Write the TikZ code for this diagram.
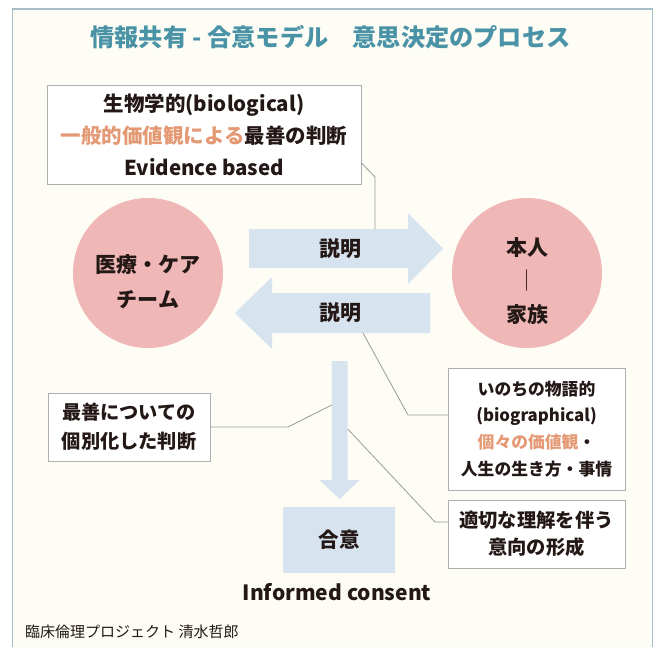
\documentclass[tikz,border=0pt]{standalone}
\usepackage{fontspec}
\setmainfont{Noto Sans CJK JP}
\definecolor{cream}{HTML}{FDFDF5}
\definecolor{framec}{HTML}{A6BEC8}
\definecolor{titlec}{HTML}{4A93A6}
\definecolor{pinkc}{HTML}{F0B7B7}
\definecolor{arrowc}{HTML}{D7E3EF}
\definecolor{orangec}{HTML}{E39A74}
\definecolor{inkc}{HTML}{231815}
\definecolor{boxline}{HTML}{AFAFAF}
\definecolor{connc}{HTML}{9A9A9A}
\tikzset{
  txt/.style={text=inkc, font=\bfseries, align=center, inner sep=0pt},
  wbox/.style={draw=boxline, line width=1pt, fill=white, inner sep=0pt, align=center, text=inkc, font=\bfseries},
  conn/.style={draw=connc, line width=0.8pt},
  disk/.style={circle, fill=pinkc, minimum size=150pt, inner sep=0pt}
}
\begin{document}
\begin{tikzpicture}[x=1pt,y=-1pt]
\useasboundingbox (0,0) rectangle (654,646);
\fill[white] (0,0) rectangle (654,646);
\filldraw[draw=framec, fill=cream, line width=1.2pt] (12.5,660) -- (12.5,9) -- (652.5,9) -- (652.5,660);

\node[txt, text=titlec, font=\bfseries\fontsize{24.2}{26}\selectfont] (title) at (330.5,37) {情報共有 - 合意モデル　意思決定のプロセス};

% circles
\node[disk] (team) at (148,273) {};
\node[disk] (self) at (527,273) {};
\node[txt, font=\bfseries\fontsize{21}{35}\selectfont] (teamtxt) at (148,282) {医療・ケア\\チーム};
\node[txt, font=\bfseries\fontsize{21}{33.5}\selectfont] (selftxt) at (527,281) {本人\\{\mdseries ｜}\\家族};

% arrows
\fill[arrowc] (249,229) -- (408,229) -- (408,213) -- (443,248.5) -- (408,284) -- (408,268) -- (249,268) -- cycle;
\fill[arrowc] (430,293) -- (272,293) -- (272,277) -- (235,313) -- (272,349) -- (272,333) -- (430,333) -- cycle;
\fill[arrowc] (331.7,361) -- (347.7,361) -- (347.7,480) -- (359.5,480) -- (339.7,499) -- (319.5,480) -- (331.7,480) -- cycle;
\coordinate (rtop) at (375,229);
\coordinate (lbot) at (363,333);
\coordinate (dleft) at (331.7,405);
\coordinate (dright) at (347.7,429);

\node[txt, font=\bfseries\fontsize{21}{24}\selectfont] (exp1) at (340,249) {説明};
\node[txt, font=\bfseries\fontsize{21}{24}\selectfont] (exp2) at (340,313) {説明};

% top box
\node[wbox, minimum width=314pt, minimum height=99pt, font=\bfseries\fontsize{20.5}{32}\selectfont] (bio) at (204,134.5)
 {生物学的(biological)\\{\color{orangec}一般的価値観による}最善の判断\\Evidence based};

% right boxes
\node[wbox, minimum width=177pt, minimum height=122pt, font=\bfseries\fontsize{16.8}{26.7}\selectfont] (story) at (536.5,429)
 {いのちの物語的\\(biographical)\\{\color{orangec}個々の価値観}・\\人生の生き方・事情};
\node[wbox, minimum width=177pt, minimum height=68pt, font=\bfseries\fontsize{19.3}{27}\selectfont] (form) at (536.5,534)
 {適切な理解を伴う\\意向の形成};

% left box
\node[wbox, minimum width=162pt, minimum height=68pt, font=\bfseries\fontsize{19.2}{29}\selectfont] (judge) at (129,427)
 {最善についての\\個別化した判断};

% agreement
\node[fill=arrowc, minimum width=112pt, minimum height=66pt, inner sep=0pt, text=inkc, font=\bfseries\fontsize{20.5}{24}\selectfont] (agree) at (339,540) {合意};
\node[txt, font=\bfseries\fontsize{21}{24}\selectfont] (ic) at (337,592) {Informed consent};

% footer
\node[anchor=west, inner sep=0pt, text=inkc, font=\fontsize{15}{18}\selectfont] (credit) at (25,632) {臨床倫理プロジェクト 清水哲郎};

% connectors
\draw[conn] ([yshift=-28.5pt]bio.east) -- (375,177) -- (rtop);
\draw[conn] (lbot) -- (408,415) -- ([yshift=14pt]story.west);
\draw[conn] (judge.east) -- (288,427) -- (dleft);
\draw[conn] (dright) -- (435,522) -- ([yshift=12pt]form.west);
\end{tikzpicture}
\end{document}
